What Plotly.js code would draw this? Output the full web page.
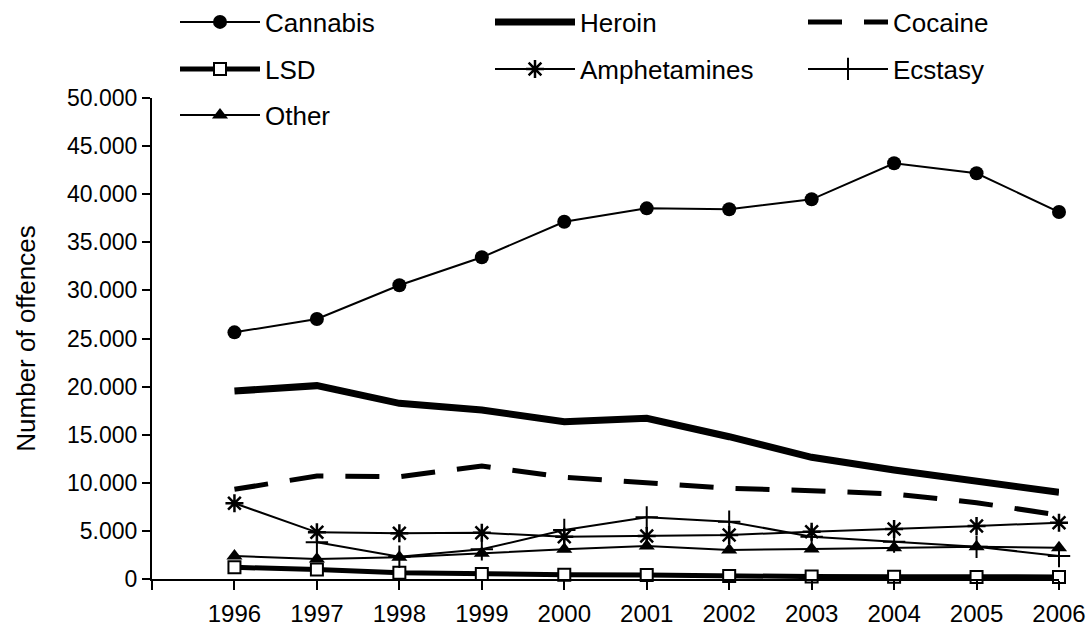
<!DOCTYPE html>
<html>
<head>
<meta charset="utf-8">
<script src="https://cdn.plot.ly/plotly-3.0.1.min.js"></script>
<style>html,body{margin:0;padding:0;background:#fff;}#chart{width:1090px;height:628px;}</style>
</head>
<body>
<div id="chart"></div>
<script>
var years = [1996, 1997, 1998, 1999, 2000, 2001, 2002, 2003, 2004, 2005, 2006];
var tickYears = [1995, 1996, 1997, 1998, 1999, 2000, 2001, 2002, 2003, 2004, 2005, 2006];
var tickLabels = ['', '1996', '1997', '1998', '1999', '2000', '2001', '2002', '2003', '2004', '2005', '2006'];

var cannabis     = [25640, 27030, 30530, 33440, 37140, 38530, 38430, 39470, 43210, 42170, 38150];
var heroin       = [19540, 20100, 18260, 17570, 16350, 16700, 14790, 12650, 11330, 10220, 9010];
var cocaine      = [9320, 10710, 10630, 11750, 10570, 10010, 9430, 9180, 8840, 7930, 6650];
var lsd          = [1210, 1000, 650, 520, 450, 420, 300, 250, 230, 220, 220];
var amphetamines = [7870, 4850, 4750, 4800, 4400, 4470, 4570, 4920, 5200, 5510, 5850];
var ecstasy      = [null, 3810, 2320, 3090, 5090, 6410, 5960, 4400, 3880, 3360, 2390];
var other        = [2390, 2080, 2250, 2670, 3090, 3430, 3010, 3120, 3250, 3360, 3250];

var F = '"Liberation Sans", Arial, sans-serif';

var traces = [
  {name: 'Cannabis', y: cannabis, legend: 'legend', mode: 'lines+markers',
   line: {color: '#000', width: 2}, marker: {symbol: 'circle', size: 14, color: '#000'}},
  {name: 'Heroin', y: heroin, legend: 'legend2', mode: 'lines',
   line: {color: '#000', width: 7}},
  {name: 'Cocaine', y: cocaine, legend: 'legend3', mode: 'lines',
   line: {color: '#000', width: 5, dash: '34px,22px'}},
  {name: 'LSD', y: lsd, legend: 'legend4', mode: 'lines+markers',
   line: {color: '#000', width: 5}, marker: {symbol: 'square', size: 12, color: '#fff', line: {color: '#000', width: 2}}},
  {name: 'Amphetamines', y: amphetamines, legend: 'legend5', mode: 'lines+markers',
   line: {color: '#000', width: 2}, marker: {symbol: 'asterisk-open', size: 15, color: '#000', line: {color: '#000', width: 2.5}}},
  {name: 'Ecstasy', y: ecstasy, legend: 'legend6', mode: 'lines+markers',
   line: {color: '#000', width: 2}, marker: {symbol: 'cross-thin-open', size: 16, color: '#000', line: {color: '#000', width: 2}}},
  {name: 'Other', y: other, legend: 'legend7', mode: 'lines+markers',
   line: {color: '#000', width: 2}, marker: {symbol: 'triangle-up', size: 14, color: '#000'}}
].map(function (t) {
  t.x = years; t.type = 'scatter'; t.cliponaxis = false; t.connectgaps = false;
  return t;
});

function leg(px, py) {
  return {
    orientation: 'h', xref: 'container', yref: 'container',
    x: px / 1090, y: 1 - py / 628, xanchor: 'left', yanchor: 'middle',
    itemwidth: 80,
    font: {family: F, size: 26, color: '#000'}, bgcolor: 'rgba(0,0,0,0)',
    itemclick: false, itemdoubleclick: false
  };
}

var layout = {
  width: 1090, height: 628,
  margin: {l: 152, r: 31, t: 98, b: 49, autoexpand: false},
  paper_bgcolor: '#fff', plot_bgcolor: '#fff',
  separators: ',.',
  font: {family: F, size: 23, color: '#000'},
  showlegend: true,
  legend: leg(175, 22),
  legend2: leg(490, 22),
  legend3: leg(803, 22),
  legend4: leg(175, 69),
  legend5: leg(490, 69),
  legend6: leg(803, 69),
  legend7: leg(175, 115),
  xaxis: {
    range: [1995, 2006], tickmode: 'array', tickvals: tickYears, ticktext: tickLabels,
    showline: true, linecolor: '#000', linewidth: 2, ticks: 'outside', ticklen: 9, tickwidth: 2, tickcolor: '#000',
    ticklabelstandoff: 3,
    showgrid: false, zeroline: false, tickfont: {family: F, size: 24, color: '#000'}, automargin: false
  },
  yaxis: {
    range: [0, 50000], tickmode: 'linear', tick0: 0, dtick: 5000, tickformat: ',d',
    showline: true, linecolor: '#000', linewidth: 2, ticks: 'outside', ticklen: 8, tickwidth: 2, tickcolor: '#000',
    showgrid: false, zeroline: false, tickfont: {family: F, size: 23, color: '#000'}, automargin: false,
    title: {text: 'Number of offences', font: {family: F, size: 26, color: '#000'}, standoff: 24}
  }
};

Plotly.newPlot('chart', traces, layout, {displayModeBar: false, staticPlot: true});
</script>
</body>
</html>
